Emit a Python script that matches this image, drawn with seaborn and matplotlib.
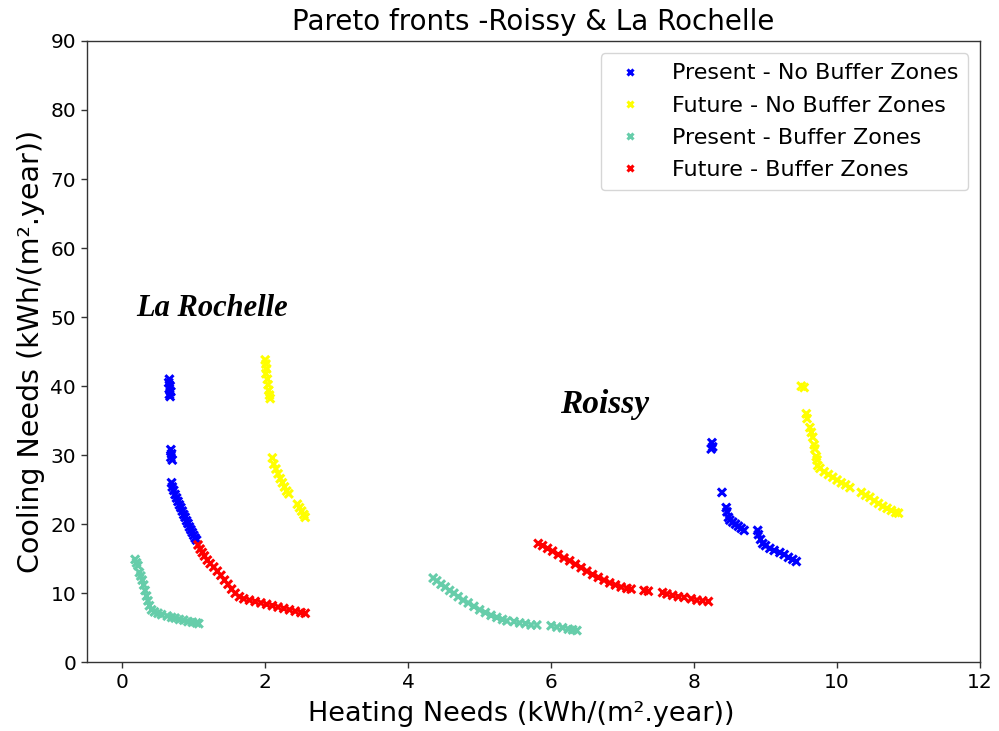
import matplotlib
matplotlib.use("Agg")
import matplotlib.pyplot as plt
import seaborn as sns
import pandas as pd

# Heating / cooling needs of Pareto-optimal designs (kWh/(m².year))
present_nobz_x = [0.66, 0.65, 0.67, 0.66, 0.68, 0.66, 0.67,
                  0.68, 0.69, 0.68, 0.70,
                  0.69, 0.70, 0.72, 0.74, 0.76, 0.78, 0.80, 0.82, 0.84, 0.86, 0.88,
                  0.90, 0.92, 0.94, 0.96, 0.98, 1.00, 1.02, 1.04,
                  8.25, 8.26, 8.24, 8.39, 8.45, 8.46, 8.48, 8.50, 8.54, 8.58, 8.62,
                  8.66, 8.70, 8.89, 8.90, 8.93, 8.96, 9.00, 9.06, 9.12, 9.20, 9.26,
                  9.32, 9.38, 9.43]
present_nobz_y = [41.0, 40.5, 40.0, 39.6, 39.2, 38.8, 38.5,
                  30.8, 30.2, 29.7, 29.3,
                  26.0, 25.4, 24.9, 24.3, 23.8, 23.3, 22.8, 22.4, 21.9, 21.4, 21.0,
                  20.5, 20.1, 19.6, 19.2, 18.8, 18.4, 18.0, 17.7,
                  31.8, 31.2, 30.9, 24.6, 22.4, 21.8, 21.0, 20.6, 20.3, 20.0, 19.7,
                  19.4, 19.1, 19.1, 18.5, 17.8, 17.2, 16.9, 16.5, 16.2, 15.9, 15.6,
                  15.2, 14.9, 14.6]

future_nobz_x = [2.00, 2.01, 2.02, 2.01, 2.03, 2.04, 2.05, 2.06, 2.07,
                 2.10, 2.12, 2.15, 2.18, 2.21, 2.24, 2.27, 2.30, 2.33,
                 2.45, 2.48, 2.51, 2.54, 2.56,
                 9.50, 9.54, 9.57, 9.58, 9.62, 9.64, 9.66, 9.68, 9.69, 9.71, 9.72,
                 9.73, 9.76, 9.82, 9.88, 9.94, 10.00, 10.06, 10.12, 10.18, 10.34,
                 10.40, 10.46, 10.52, 10.58, 10.64, 10.70, 10.76, 10.82, 10.86]
future_nobz_y = [43.8, 43.2, 42.5, 41.8, 41.0, 40.2, 39.4, 38.7, 38.2,
                 29.6, 28.7, 28.0, 27.3, 26.6, 26.0, 25.4, 24.8, 24.4,
                 22.9, 22.4, 21.9, 21.4, 21.0,
                 40.0, 39.8, 36.0, 35.3, 34.0, 33.3, 32.6, 31.5, 30.9, 29.8, 29.3,
                 28.5, 28.1, 27.6, 27.2, 26.8, 26.4, 26.0, 25.7, 25.3, 24.6,
                 24.2, 23.9, 23.4, 23.0, 22.6, 22.3, 22.0, 21.7, 21.6]

present_bz_x = [0.18, 0.20, 0.22, 0.24, 0.26, 0.28, 0.30, 0.32, 0.34, 0.36, 0.38,
                0.41, 0.45, 0.50, 0.55, 0.63, 0.69, 0.74, 0.80, 0.86, 0.92, 0.98,
                1.04, 1.07,
                4.35, 4.40, 4.46, 4.52, 4.58, 4.64, 4.70, 4.77, 4.84, 4.92, 5.00,
                5.08, 5.16, 5.24, 5.32, 5.38, 5.48, 5.56, 5.64, 5.72, 5.80, 6.00,
                6.08, 6.16, 6.24, 6.30, 6.36]
present_bz_y = [14.9, 14.4, 14.0, 13.0, 12.5, 11.9, 11.2, 10.4, 9.6, 8.9, 8.2,
                7.6, 7.3, 7.1, 6.9, 6.7, 6.5, 6.4, 6.2, 6.1, 5.9, 5.8,
                5.7, 5.6,
                12.2, 11.8, 11.3, 10.9, 10.4, 10.0, 9.5, 9.0, 8.6, 8.1, 7.6,
                7.2, 6.8, 6.5, 6.2, 6.0, 5.9, 5.7, 5.6, 5.4, 5.4, 5.3,
                5.1, 5.0, 4.8, 4.7, 4.6]

future_bz_x = [1.06, 1.09, 1.12, 1.15, 1.19, 1.23, 1.28, 1.33, 1.38, 1.43, 1.48,
               1.53, 1.58, 1.64, 1.70, 1.78, 1.86, 1.94, 2.02, 2.10, 2.18, 2.26,
               2.34, 2.42, 2.50, 2.56,
               5.82, 5.88, 5.95, 6.02, 6.10, 6.18, 6.26, 6.34, 6.42, 6.50, 6.58,
               6.66, 6.74, 6.82, 6.90, 6.98, 7.06, 7.12, 7.30, 7.36, 7.56, 7.62,
               7.70, 7.78, 7.86, 7.96, 8.04, 8.12, 8.20]
future_bz_y = [17.0, 16.4, 15.9, 15.4, 14.8, 14.3, 13.8, 13.2, 12.6, 11.9, 11.3,
               10.6, 10.0, 9.5, 9.2, 9.0, 8.8, 8.6, 8.4, 8.2, 8.0, 7.8,
               7.6, 7.4, 7.2, 7.1,
               17.2, 16.9, 16.5, 16.1, 15.6, 15.1, 14.7, 14.2, 13.7, 13.2, 12.7,
               12.3, 11.9, 11.5, 11.2, 10.9, 10.7, 10.6, 10.4, 10.3, 10.1, 9.9,
               9.7, 9.5, 9.4, 9.2, 9.0, 8.9, 8.8]

series_names = ["Present - No Buffer Zones", "Future - No Buffer Zones",
                "Present - Buffer Zones", "Future - Buffer Zones"]
series_colors = ["#0000ff", "#ffff00", "#66cdaa", "#ff0000"]

frames = []
for name, xs, ys in zip(series_names,
                        [present_nobz_x, future_nobz_x, present_bz_x, future_bz_x],
                        [present_nobz_y, future_nobz_y, present_bz_y, future_bz_y]):
    frames.append(pd.DataFrame({"heating": xs, "cooling": ys, "case": name}))
df = pd.concat(frames, ignore_index=True)

sns.set_style("white")
plt.rcParams["font.family"] = ["DejaVu Sans"]
plt.rcParams["text.color"] = "black"
plt.rcParams["axes.labelcolor"] = "black"
plt.rcParams["xtick.color"] = "#333333"
plt.rcParams["ytick.color"] = "#333333"
plt.rcParams["xtick.labelcolor"] = "black"
plt.rcParams["ytick.labelcolor"] = "black"

fig = plt.figure(figsize=(9.99, 7.31), dpi=100)
ax = fig.add_axes([0.0866, 0.094, 0.8944, 0.850])

sns.scatterplot(data=df, x="heating", y="cooling", hue="case",
                hue_order=series_names, palette=series_colors,
                marker="x", s=34, linewidth=2.2, ax=ax)

ax.set_xlim(-0.5, 12)
ax.set_ylim(0, 90)
ax.set_xticks([0, 2, 4, 6, 8, 10, 12])
ax.set_yticks(range(0, 91, 10))
ax.tick_params(axis="both", labelsize=14.5, length=4, width=1, direction="out",
               bottom=True, left=True)
for sp in ax.spines.values():
    sp.set_color("#333333")
    sp.set_linewidth(1.0)

ax.set_xlabel("Heating Needs (kWh/(m².year))", fontsize=19.5)
ax.xaxis.set_label_coords(0.487, -0.062)
ax.set_ylabel("Cooling Needs (kWh/(m².year))", fontsize=20.5)
ax.set_title("Pareto fronts -Roissy & La Rochelle", fontsize=20, pad=8,
             color="black")

ax.text(0.19, 51.3, "La Rochelle", family="Liberation Serif", fontsize=22,
        fontweight="bold", style="italic", va="center", ha="left")
ax.text(6.13, 37.4, "Roissy", family="Liberation Serif", fontsize=24,
        fontweight="bold", style="italic", va="center", ha="left")

leg = ax.legend(loc="upper right", fontsize=16, markerscale=0.85,
                frameon=True, borderpad=0.45, labelspacing=0.55,
                handlelength=1.75, handletextpad=1.0,
                bbox_to_anchor=(0.9993, 0.998))
leg.get_frame().set_edgecolor("#cccccc")

fig.savefig("out.png", dpi=100)
